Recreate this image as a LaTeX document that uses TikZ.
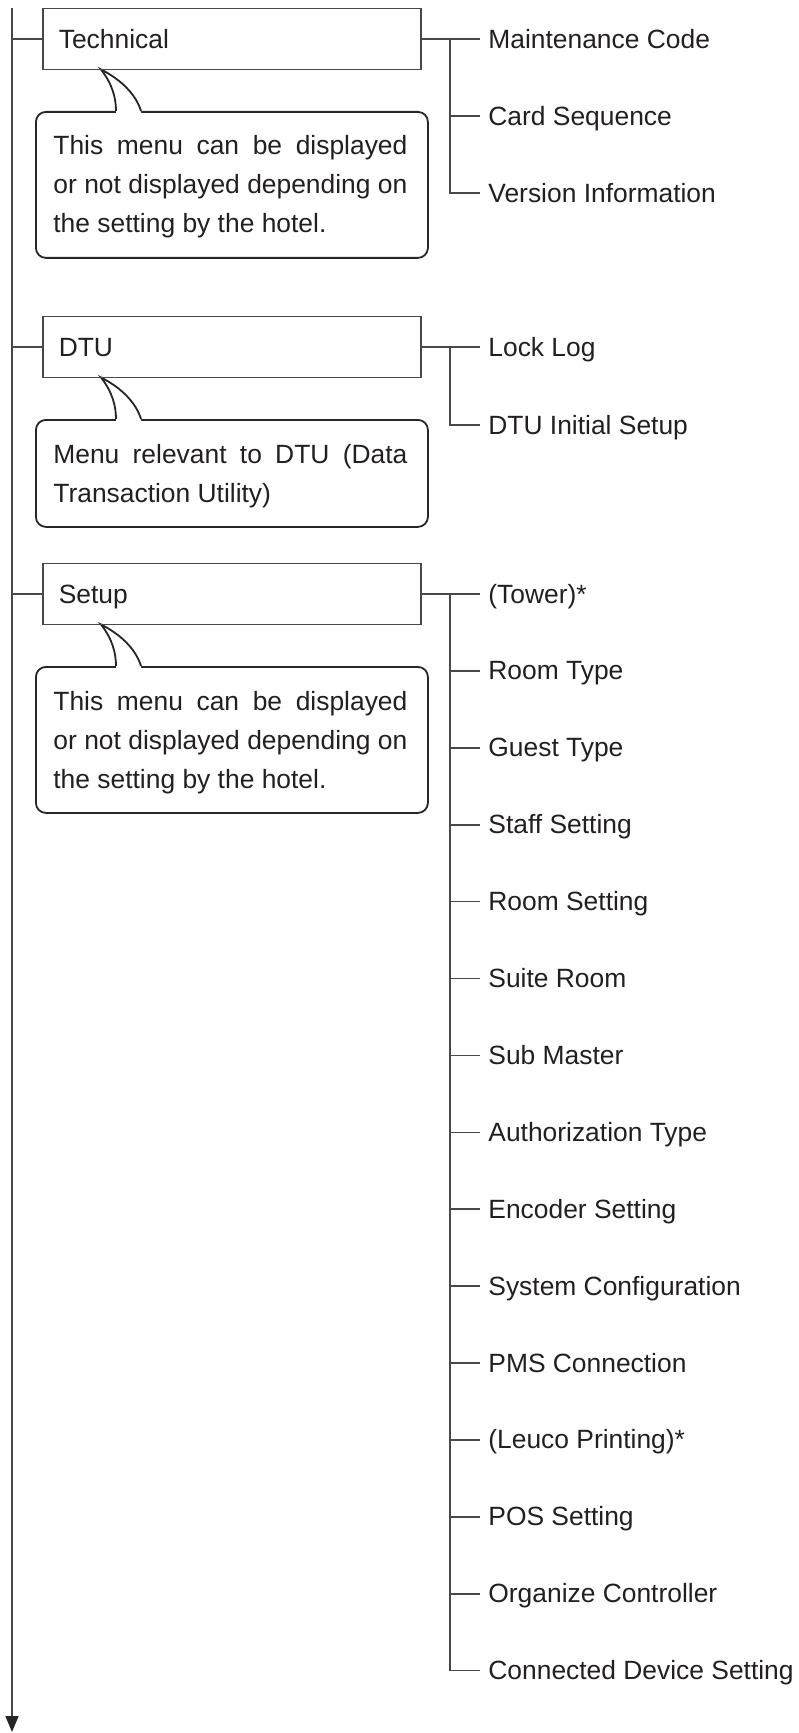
\documentclass[tikz,border=0pt]{standalone}
\usepackage{fontspec}
\setmainfont{Liberation Sans}
\usetikzlibrary{arrows.meta}
\definecolor{linecol}{HTML}{484848}
\definecolor{edgecol}{HTML}{262626}
\definecolor{txtcol}{HTML}{231F20}
\begin{document}
\begin{tikzpicture}[x=0.5pt,y=-0.5pt,
  every node/.style={font=\fontsize{13.2}{19.5}\selectfont, text=txtcol},
  conn/.style={draw=linecol, line width=0.8pt},
  menubox/.style={draw=linecol, line width=0.8pt, rectangle, anchor=west,
    minimum width=189pt, minimum height=30.5pt, inner xsep=8pt, inner ysep=0pt,
    text width=173pt, align=left, text height=9.08pt, text depth=0pt},
  item/.style={anchor=west, inner sep=0pt, text height=9.08pt, text depth=0pt},
  callbox/.style={draw=edgecol, line width=0.9pt, rounded corners=5pt, rectangle,
    anchor=north west, minimum width=196pt, inner sep=0pt},
  tailline/.style={draw=edgecol, line width=0.9pt},
  ctext/.style={anchor=base west, inner sep=0pt},
]
\useasboundingbox (0,0) rectangle (798,1733);

% main trunk
\coordinate (top) at (12,8);
\coordinate (bot) at (12,1732);
\draw[conn, -{Triangle[length=8pt,width=6.5pt,color=edgecol]}] (top) -- (bot);

% ---------------- Technical ----------------
\coordinate (mT) at (12,39);
\node[callbox, minimum height=73pt] (cT) at (35,111) {};
\fill[white] (101,69.5) .. controls (112,83.5) and (116,97.5) .. (116,111) -- (116,113) -- (141,113) -- (141,111) .. controls (136,94.5) and (121,79.5) .. (101,69.5) -- cycle;
\draw[tailline] (141,111) .. controls (136,94.5) and (121,79.5) .. (101,69.5) .. controls (112,83.5) and (116,97.5) .. (116,111);
\node[menubox] (bT) at (42,39) {Technical};
\draw[conn] (mT) -- (bT.west);
\node[ctext] (tT1) at (53,155) {\makebox[177pt][s]{This menu can be displayed}};
\node[ctext] (tT2) at (53,194) {\makebox[177pt][s]{or not displayed depending on}};
\node[ctext] (tT3) at (53,233) {the setting by the hotel.};
\node[item] (iT1) at (488,39) {Maintenance Code};
\node[item] (iT2) at (488,116) {Card Sequence};
\node[item] (iT3) at (488,193) {Version Information};
\coordinate (jT) at (450,39);
\draw[conn] (bT.east) -- ([xshift=-4pt]iT1.west);
\draw[conn] (jT |- iT2.west) -- ([xshift=-4pt]iT2.west);
\draw[conn] (jT) |- ([xshift=-4pt]iT3.west);

% ---------------- DTU ----------------
\coordinate (mD) at (12,347);
\node[callbox, minimum height=53.5pt] (cD) at (35,419) {};
\fill[white] (101,377.5) .. controls (112,391.5) and (116,405.5) .. (116,419) -- (116,421) -- (141,421) -- (141,419) .. controls (136,402.5) and (121,387.5) .. (101,377.5) -- cycle;
\draw[tailline] (141,419) .. controls (136,402.5) and (121,387.5) .. (101,377.5) .. controls (112,391.5) and (116,405.5) .. (116,419);
\node[menubox] (bD) at (42,347) {DTU};
\draw[conn] (mD) -- (bD.west);
\node[ctext] (tD1) at (53,463) {\makebox[177pt][s]{Menu relevant to DTU (Data}};
\node[ctext] (tD2) at (53,502) {Transaction Utility)};
\node[item] (iD1) at (488,347) {Lock Log};
\node[item] (iD2) at (488,425) {DTU Initial Setup};
\coordinate (jD) at (450,347);
\draw[conn] (bD.east) -- ([xshift=-4pt]iD1.west);
\draw[conn] (jD) |- ([xshift=-4pt]iD2.west);

% ---------------- Setup ----------------
\coordinate (mS) at (12,594);
\node[callbox, minimum height=73pt] (cS) at (35,666) {};
\fill[white] (101,624.5) .. controls (112,638.5) and (116,652.5) .. (116,666) -- (116,668) -- (141,668) -- (141,666) .. controls (136,649.5) and (121,634.5) .. (101,624.5) -- cycle;
\draw[tailline] (141,666) .. controls (136,649.5) and (121,634.5) .. (101,624.5) .. controls (112,638.5) and (116,652.5) .. (116,666);
\node[menubox] (bS) at (42,594) {Setup};
\draw[conn] (mS) -- (bS.west);
\node[ctext] (tS1) at (53,710) {\makebox[177pt][s]{This menu can be displayed}};
\node[ctext] (tS2) at (53,749) {\makebox[177pt][s]{or not displayed depending on}};
\node[ctext] (tS3) at (53,788) {the setting by the hotel.};
\coordinate (jS) at (450,594);
\foreach \t [count=\k from 0] in {{(Tower)*},{Room Type},{Guest Type},{Staff Setting},{Room Setting},{Suite Room},{Sub Master},{Authorization Type},{Encoder Setting},{System Configuration},{PMS Connection},{(Leuco Printing)*},{POS Setting},{Organize Controller},{Connected Device Setting}}{
  \pgfmathsetmacro\yy{594+76.9*\k}
  \node[item] (iS\k) at (488,\yy) {\t};
}
\draw[conn] (bS.east) -- ([xshift=-4pt]iS0.west);
\foreach \k in {1,...,13}{
  \draw[conn] (jS |- iS\k.west) -- ([xshift=-4pt]iS\k.west);
}
\draw[conn] (jS) |- ([xshift=-4pt]iS14.west);
\end{tikzpicture}
\end{document}
